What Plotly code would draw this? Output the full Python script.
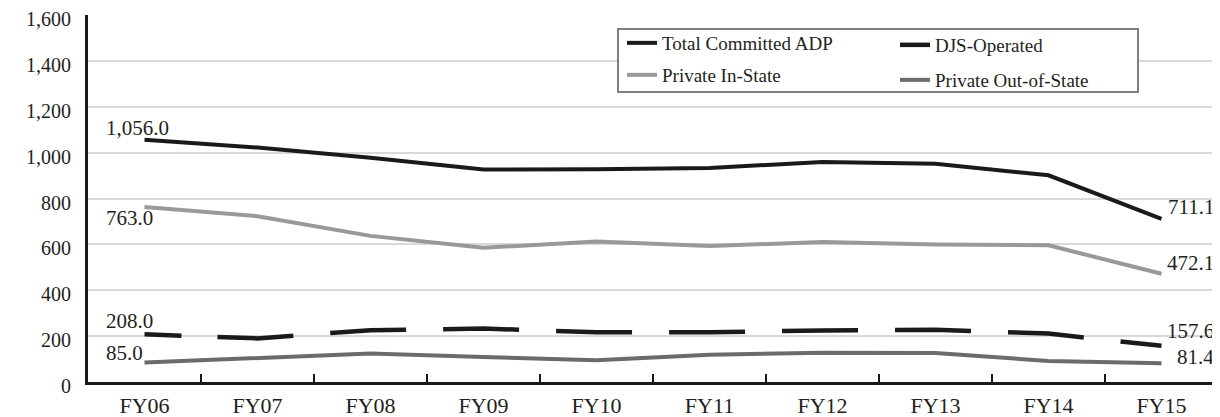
import plotly.graph_objects as go

categories = ["FY06", "FY07", "FY08", "FY09", "FY10", "FY11", "FY12", "FY13", "FY14", "FY15"]
total_committed = [1056.0, 1022, 978, 926, 927, 933, 959, 951, 901, 711.1]
private_in_state = [763.0, 723, 637, 585, 613, 593, 610, 599, 596, 472.1]
djs_operated = [208.0, 190, 226, 233, 217, 217, 225, 228, 211, 157.6]
private_out_state = [85.0, 106, 124, 109, 95, 119, 128, 126, 92, 81.4]
y_ticks = [0, 200, 400, 600, 800, 1000, 1200, 1400, 1600]

# page has an 8px body margin; figure is offset by it
OFF = 8
W, H = 1220 - OFF, 417 - OFF
# main plot area in page pixels: x 88..1218, y 15..382
PX0, PX1, PY0, PY1 = 88, 1218, 15, 382
SHIFT = 4  # tick labels sit slightly below their gridlines
PB = PY1 + SHIFT  # bottom of paper area
L, R, T, B = PX0 - OFF, (1220 - PX1), PY0 - OFF, 417 - PB
FONT = "Liberation Serif"
TXT = "#231f20"

pw = PX1 - PX0
ph = PB - PY0
def px2paper_x(p):
    return (p - PX0) / pw
def px2paper_y(p):
    return (PB - p) / ph

fig = go.Figure()
dash_pattern = "37px,36px," + ",".join(["76px,37px"] * 10)

fig.add_trace(go.Scatter(x=categories, y=total_committed, mode="lines", name="Total Committed ADP",
                         line=dict(color="#1a1a1a", width=4), legend="legend"))
fig.add_trace(go.Scatter(x=categories, y=djs_operated, mode="lines", name="DJS-Operated",
                         line=dict(color="#1a1a1a", width=4.5, dash=dash_pattern), legend="legend2"))
fig.add_trace(go.Scatter(x=categories, y=private_in_state, mode="lines", name="Private In-State",
                         line=dict(color="#999999", width=4), legend="legend3"))
fig.add_trace(go.Scatter(x=categories, y=private_out_state, mode="lines", name="Private Out-of-State",
                         line=dict(color="#6b6b6b", width=4), legend="legend4"))
# invisible companion trace that carries the tick-label axis
fig.add_trace(go.Scatter(x=categories, y=total_committed, mode="lines", yaxis="y2",
                         line=dict(width=0, color="rgba(0,0,0,0)"), opacity=0,
                         showlegend=False, hoverinfo="skip"))

def fmt(v):
    return f"{v:,.1f}"

annots = []
first, last = 0, len(categories) - 1
left_labels = [(total_committed, 12), (private_in_state, -11), (djs_operated, 13), (private_out_state, 10)]
right_labels = [(total_committed, 12), (private_in_state, 11), (djs_operated, 15), (private_out_state, 6)]
for series, ys in left_labels:
    annots.append(dict(x=categories[first], y=series[first], text=fmt(series[first]), showarrow=False,
                       xref="x", yref="y",
                       xanchor="left", yanchor="middle", xshift=-41, yshift=ys,
                       font=dict(family=FONT, size=21, color=TXT)))
for series, ys in right_labels:
    annots.append(dict(x=categories[last], y=series[last], text=fmt(series[last]), showarrow=False,
                       xref="x", yref="y",
                       xanchor="right", yanchor="middle", xshift=54, yshift=ys,
                       font=dict(family=FONT, size=21, color=TXT)))

def lg(xpx, ypx):
    return dict(x=px2paper_x(xpx), y=px2paper_y(ypx), xref="paper", yref="paper",
                xanchor="left", yanchor="middle", bgcolor="rgba(0,0,0,0)", borderwidth=0,
                font=dict(family=FONT, size=19, color=TXT))

fig.update_layout(
    width=W, height=H,
    margin=dict(l=L, r=R, t=T, b=B, pad=0, autoexpand=False),
    paper_bgcolor="white", plot_bgcolor="rgba(0,0,0,0)",
    showlegend=True,
    legend=lg(622, 43),
    legend2=lg(895, 45),
    legend3=lg(622, 75),
    legend4=lg(895, 80),
    annotations=annots,
    shapes=[dict(type="rect", xref="paper", yref="paper", layer="above",
                 x0=px2paper_x(618), x1=px2paper_x(1138), y0=px2paper_y(92), y1=px2paper_y(29),
                 line=dict(color="#808080", width=2), fillcolor="white")],
    xaxis=dict(type="category", range=[-0.5, 9.5], showgrid=False, showline=True, anchor="y",
               linecolor="#1a1a1a", linewidth=2.5, ticks="inside", tickson="boundaries",
               ticklen=8, tickwidth=2, tickcolor="#1a1a1a", tickangle=0, automargin=False,
               tickfont=dict(family=FONT, size=22, color=TXT), ticklabelstandoff=2),
    yaxis=dict(domain=[SHIFT / ph, 1], range=[0, 1600], tickvals=y_ticks, showgrid=True,
               gridcolor="#d9d9d9", gridwidth=1.5, showline=True, linecolor="#1a1a1a",
               linewidth=2.5, ticks="", zeroline=False, showticklabels=False, automargin=False),
    yaxis2=dict(domain=[0, 1 - SHIFT / ph], range=[0, 1600], tickvals=y_ticks, tickformat=",",
                anchor="x", side="left", showgrid=False, showline=False, zeroline=False,
                ticks="", ticklabelstandoff=16, automargin=False, ticklabeloverflow="allow",
                tickfont=dict(family=FONT, size=20, color=TXT)),
)

fig.write_html("out.html")
